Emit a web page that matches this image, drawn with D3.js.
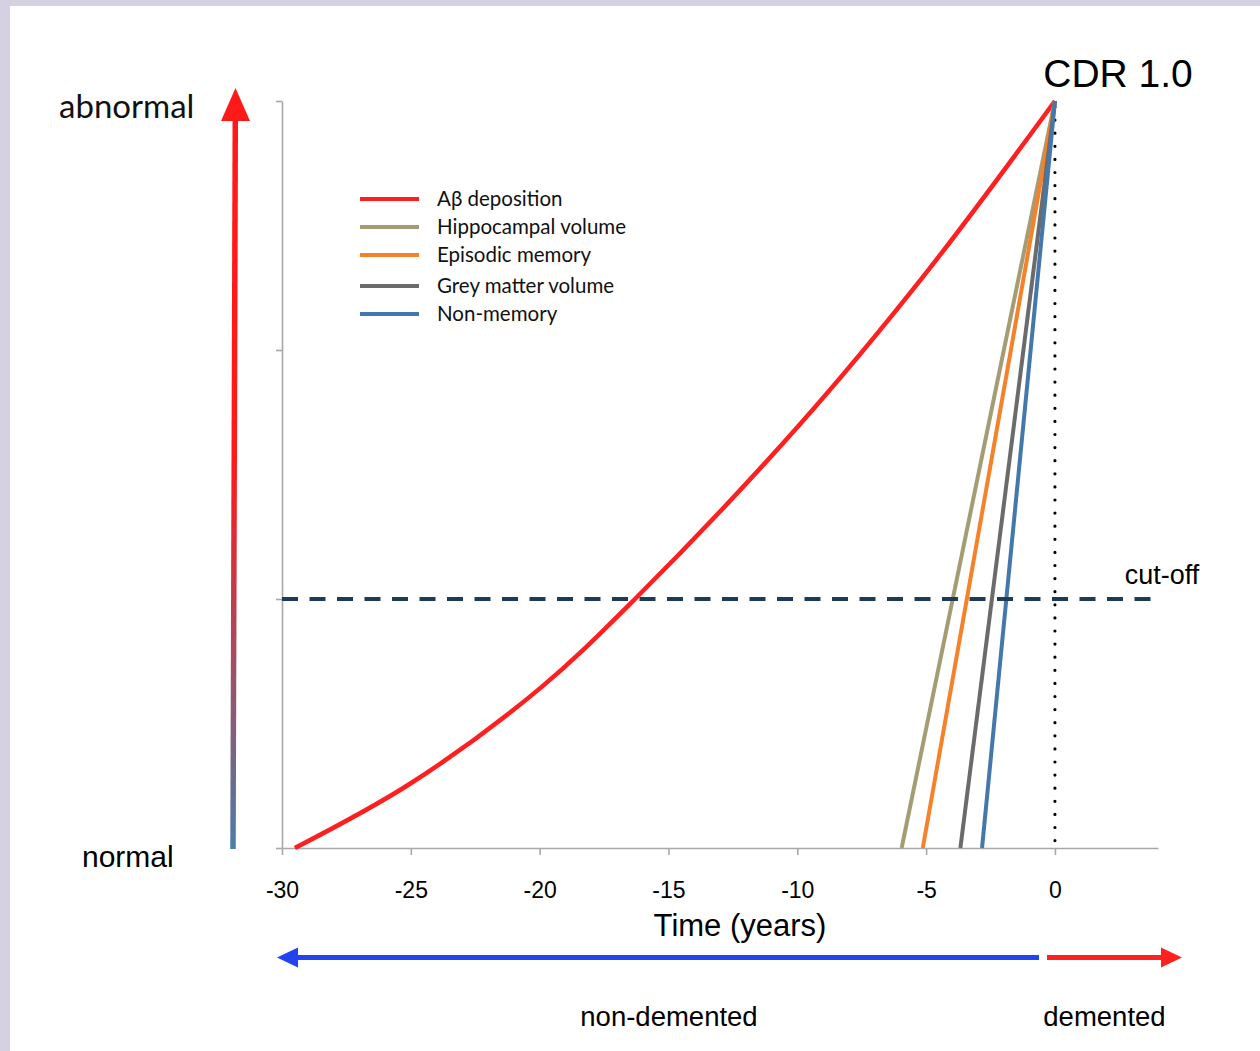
<!DOCTYPE html>
<html><head><meta charset="utf-8">
<script src="https://cdn.jsdelivr.net/npm/d3@7"></script>
<style>
html,body{margin:0;padding:0;background:#d5d1e3;}
svg{display:block;}
</style></head>
<body>
<svg id="chart" width="1260" height="1051"></svg>
<script>
// ---- data ----
const tickYears = [-30, -25, -20, -15, -10, -5, 0];
const yTicks = [0, 1, 2, 3];
const cutoff = 1;
const abYears  = [-29.5, -25, -20, -16.3, -10, -5, 0];
const abValues = [0, 0.26, 0.64, 1.0, 1.69, 2.31, 3.0];
const seriesNames  = ["Aβ deposition", "Hippocampal volume", "Episodic memory", "Grey matter volume", "Non-memory"];
const seriesColors = ["#ff1f1f", "#a49d74", "#f5822a", "#6b6b6b", "#4578aa"];
const lineStartYears = [-5.95, -5.13, -3.67, -2.83];   // linear markers, value 0 -> 3 at year 0
const lineEndYear = 0;
const lineStartValue = 0, lineEndValue = 3;

const svg = d3.select("#chart");
svg.append("rect").attr("x",10).attr("y",6).attr("width",1250).attr("height",1045).attr("fill","#fff");

const x = d3.scaleLinear().domain([-30, 4]).range([282, 1158]);
const y = d3.scaleLinear().domain([0, 3]).range([848, 101]);

// axes
const gx = svg.append("g").attr("transform", `translate(0,${y(0)})`)
  .call(d3.axisBottom(x).tickValues(tickYears).tickSize(7).tickSizeOuter(0).tickFormat(d3.format("d")));
gx.select(".domain").attr("stroke","#a8a8a8").attr("stroke-width",1.6);
gx.selectAll(".tick line").attr("stroke","#a8a8a8").attr("stroke-width",1.6);
gx.selectAll(".tick text").attr("y",50).attr("dy",0)
  .style("font-family","'Liberation Sans', Arial, sans-serif").style("font-size","23px").attr("fill","#000")
  .text(d => String(d));

const gy = svg.append("g").attr("transform", `translate(${x(-30)},0)`)
  .call(d3.axisLeft(y).tickValues(yTicks).tickSize(6).tickSizeOuter(0).tickFormat(""));
gy.select(".domain").attr("stroke","#a8a8a8").attr("stroke-width",1.6);
gy.selectAll(".tick line").attr("stroke","#a8a8a8").attr("stroke-width",1.6);

// dotted vertical at CDR 1.0
svg.append("line").attr("x1",x(0)).attr("x2",x(0)).attr("y1",y(3)+6).attr("y2",y(0))
  .attr("stroke","#000").attr("stroke-width",3.2).attr("stroke-linecap","round").attr("stroke-dasharray","0 13.1");

// Aβ curve
const abData = abYears.map((d,i)=>[d, abValues[i]]);
svg.append("path").datum(abData)
  .attr("d", d3.line().x(d=>x(d[0])).y(d=>y(d[1])).curve(d3.curveCatmullRom.alpha(0.5)))
  .attr("fill","none").attr("stroke",seriesColors[0]).attr("stroke-width",4.5);

// linear markers
lineStartYears.forEach((s,i)=>{
  svg.append("path").datum([[s,lineStartValue],[lineEndYear,lineEndValue]])
    .attr("d", d3.line().x(d=>x(d[0])).y(d=>y(d[1])))
    .attr("fill","none").attr("stroke",seriesColors[i+1]).attr("stroke-width",4);
});

// cut-off dashed line
svg.append("line").attr("x1",x(-30)).attr("x2",1153).attr("y1",y(cutoff)).attr("y2",y(cutoff))
  .attr("stroke","#1d3a57").attr("stroke-width",4).attr("stroke-dasharray","16 11.5");

// legend
const legY = [199, 227, 255, 286, 314];
seriesNames.forEach((n,i)=>{
  svg.append("line").attr("x1",360).attr("x2",419).attr("y1",legY[i]).attr("y2",legY[i])
    .attr("stroke",seriesColors[i]).attr("stroke-width",4);
  svg.append("text").attr("x",437).attr("y",legY[i]+7).text(n)
    .style("font-family","Lato, 'Open Sans', sans-serif").style("font-size","20.5px").attr("fill","#111");
});

// vertical gradient arrow
const defs = svg.append("defs");
const grad = defs.append("linearGradient").attr("id","vgrad").attr("gradientUnits","userSpaceOnUse")
  .attr("x1",0).attr("x2",0).attr("y1",849).attr("y2",88);
grad.append("stop").attr("offset",0).attr("stop-color","#4a7eaa");
grad.append("stop").attr("offset",0.5).attr("stop-color","#ff1a1a");
grad.append("stop").attr("offset",1).attr("stop-color","#ff1a1a");
svg.append("line").attr("x1",233).attr("y1",849).attr("x2",235.3).attr("y2",118)
  .attr("stroke","url(#vgrad)").attr("stroke-width",5.5);
svg.append("path").attr("d","M235.5,88 L250,121 L221,121 Z").attr("fill","#ff1a1a");

// bottom arrows
svg.append("line").attr("x1",296).attr("x2",1039).attr("y1",957.5).attr("y2",957.5).attr("stroke","#2244f0").attr("stroke-width",5);
svg.append("path").attr("d","M277,957.5 L298,947.5 L298,967.5 Z").attr("fill","#2244f0");
svg.append("line").attr("x1",1047).attr("x2",1164).attr("y1",957.5).attr("y2",957.5).attr("stroke","#ff2020").attr("stroke-width",5);
svg.append("path").attr("d","M1182,957.5 L1161,947.5 L1161,967.5 Z").attr("fill","#ff2020");

// texts
const arial = "'Liberation Sans', Arial, sans-serif";
svg.append("text").attr("x",59).attr("y",118).text("abnormal")
  .style("font-family","Lato, 'Open Sans', sans-serif").style("font-size","33px").attr("fill","#111");
svg.append("text").attr("x",82).attr("y",867).text("normal")
  .style("font-family",arial).style("font-size","30px").attr("fill","#000");
svg.append("text").attr("x",1118).attr("y",87).attr("text-anchor","middle").text("CDR 1.0")
  .style("font-family",arial).style("font-size","39px").attr("fill","#000");
svg.append("text").attr("x",1162).attr("y",584).attr("text-anchor","middle").text("cut-off")
  .style("font-family",arial).style("font-size","27px").attr("fill","#000");
svg.append("text").attr("x",740).attr("y",936).attr("text-anchor","middle").text("Time (years)")
  .style("font-family",arial).style("font-size","31px").attr("fill","#000");
svg.append("text").attr("x",669).attr("y",1026).attr("text-anchor","middle").text("non-demented")
  .style("font-family",arial).style("font-size","27.5px").attr("fill","#000");
svg.append("text").attr("x",1104.5).attr("y",1026).attr("text-anchor","middle").text("demented")
  .style("font-family",arial).style("font-size","27.5px").attr("fill","#000");
</script>
</body></html>
